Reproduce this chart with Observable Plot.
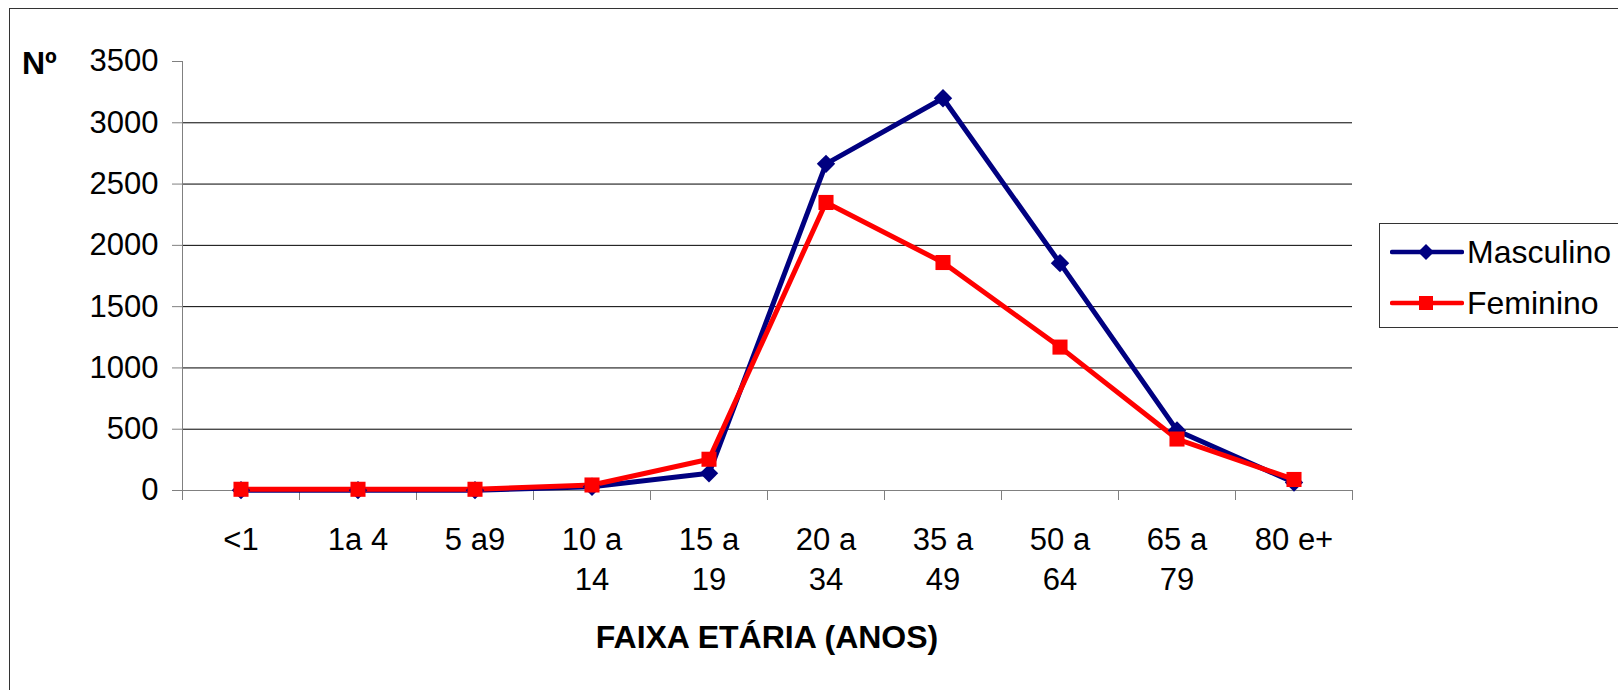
<!DOCTYPE html>
<html>
<head>
<meta charset="utf-8">
<script src="https://cdn.jsdelivr.net/npm/d3@7"></script>
<script src="https://cdn.jsdelivr.net/npm/@observablehq/plot@0.6"></script>
<style>
  html, body { margin: 0; padding: 0; background: #fff; }
  #wrap { position: relative; width: 1618px; height: 690px; overflow: hidden; font-family: "Liberation Sans", Arial, sans-serif; }
  #frame { position: absolute; left: 9px; top: 8px; width: 1700px; height: 700px; border: 1px solid #333; box-sizing: border-box; }
  #chart { position: absolute; left: 0; top: 0; }
  #ylab { position: absolute; left: 22px; top: 45px; font-size: 32px; font-weight: bold; color: #000; }
  #xlab { position: absolute; left: 0; width: 1534px; top: 619px; text-align: center; font-size: 32px; font-weight: bold; color: #000; }
  #legend { position: absolute; left: 1379px; top: 223px; width: 300px; height: 105px; border: 1px solid #333; box-sizing: border-box; background: #fff; }
  .item { position: absolute; left: 10px; height: 40px; display: flex; align-items: center; font-size: 32px; color: #000; }
  .item svg { margin-right: 3px; }
</style>
</head>
<body>
<div id="wrap">
  <div id="frame"></div>
  <div id="chart"></div>
  <div id="ylab">Nº</div>
  <div id="xlab">FAIXA ETÁRIA (ANOS)</div>
  <div id="legend"></div>
</div>
<script>
// Age groups (two-line labels use "\n")
const faixas = ["<1", "1a 4", "5 a9", "10 a\n14", "15 a\n19", "20 a\n34", "35 a\n49", "50 a\n64", "65 a\n79", "80 e+"];
const masculino = [3, 3, 3, 30, 140, 2665, 3200, 1855, 490, 65];
const feminino = [10, 10, 10, 45, 255, 2350, 1860, 1170, 420, 90];
const series = ["Masculino", "Feminino"];
const cores = ["#000080", "#ff0000"];
const yTicks = [0, 500, 1000, 1500, 2000, 2500, 3000, 3500];

const rows = [
  ...faixas.map((f, i) => ({serie: "Masculino", i: i + 0.5, v: masculino[i]})),
  ...faixas.map((f, i) => ({serie: "Feminino", i: i + 0.5, v: feminino[i]}))
];
const labels = faixas.map((f, i) => ({i: i + 0.5, f}));

const plot = Plot.plot({
  width: 1618,
  height: 690,
  marginLeft: 182,
  marginRight: 266,
  marginTop: 61,
  marginBottom: 200,
  style: {fontFamily: "'Liberation Sans', Arial, sans-serif", fontSize: "31px", color: "#000", background: "transparent"},
  x: {type: "linear", domain: [0, faixas.length]},
  y: {domain: [0, 3500]},
  color: {domain: series, range: cores},
  marks: [
    Plot.ruleY(yTicks.filter(d => d > 0 && d < 3500), {stroke: "#000", strokeWidth: 1}),
    Plot.axisY({ticks: yTicks, tickFormat: d => String(d), tickSize: 10, tickPadding: 14, label: null, stroke: "#808080", fontSize: 31}),
    Plot.axisX({ticks: d3.range(0, faixas.length + 1), tickSize: 10, tickFormat: () => "", label: null, stroke: "#808080"}),
    Plot.ruleX([0], {y1: 0, y2: 3500, stroke: "#808080"}),
    Plot.ruleY([0], {stroke: "#808080"}),
    Plot.text(labels, {x: "i", y: () => 0, text: "f", lineAnchor: "top", dy: 30, lineHeight: 1.32, fontSize: 31, fill: "#000"}),
    Plot.line(rows, {x: "i", y: "v", z: "serie", stroke: "serie", strokeWidth: 5, strokeLinejoin: "miter"}),
    Plot.dot(rows.filter(d => d.serie === "Masculino"), {x: "i", y: "v", symbol: "diamond2", r: 8.3, fill: "#000080", stroke: "none"}),
    Plot.dot(rows.filter(d => d.serie === "Feminino"), {x: "i", y: "v", symbol: "square", r: 8.5, fill: "#ff0000", stroke: "none"})
  ]
});
document.getElementById("chart").appendChild(plot);

// Legend
const legend = document.getElementById("legend");
series.forEach((s, k) => {
  const item = document.createElement("div");
  item.className = "item";
  item.style.top = (k === 0 ? 8 : 59) + "px";
  const sym = k === 0
    ? `<path d="M36,10 L44,18 L36,26 L28,18 Z" fill="${cores[k]}"/>`
    : `<rect x="29" y="11" width="14" height="14" fill="${cores[k]}"/>`;
  item.innerHTML = `<svg width="74" height="36"><line x1="2" x2="72" y1="18" y2="18" stroke="${cores[k]}" stroke-width="4.5" stroke-linecap="round"/>${sym}</svg><span>${s}</span>`;
  legend.appendChild(item);
});
</script>
</body>
</html>
